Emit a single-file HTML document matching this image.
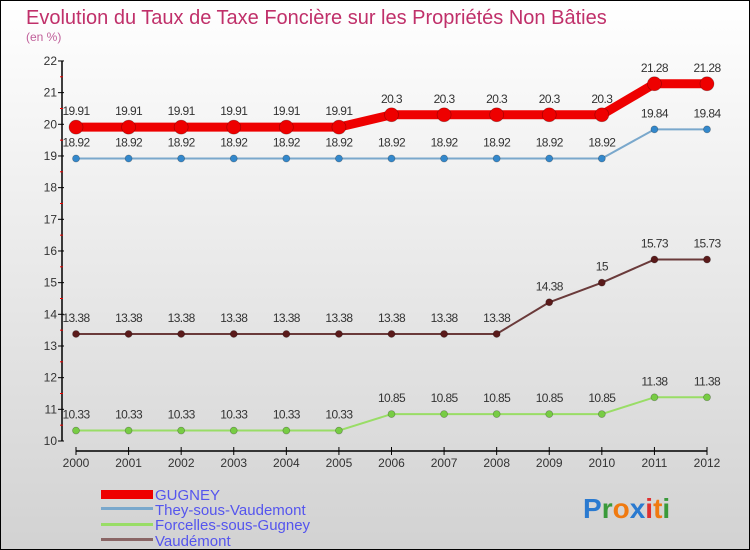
<!DOCTYPE html>
<html><head><meta charset="utf-8"><style>
body{margin:0}
#c{position:relative;width:748px;height:548px;border:1px solid #000;background:linear-gradient(#ffffff,#d2d2d2);font-family:"Liberation Sans",sans-serif;overflow:hidden}
</style></head><body>
<div id="c">
<svg width="748" height="548" id="svg">
<text x="25" y="23" font-size="20" fill="#c0306a">Evolution du Taux de Taxe Foncière sur les Propriétés Non Bâties</text>
<text x="25" y="40" font-size="12" fill="#c0609a">(en %)</text>
<g id="axes"></g><g id="series"></g>
<g>
<rect x="100" y="489" width="52" height="9" fill="#e00"/>
<text x="154" y="499" font-size="15" fill="#5555ee">GUGNEY</text>
<rect x="100" y="506" width="52" height="3" fill="#7aa8cc"/>
<text x="154" y="514" font-size="15" fill="#5555ee">They-sous-Vaudemont</text>
<rect x="100" y="522" width="52" height="3" fill="#99dd66"/>
<text x="154" y="529" font-size="15" fill="#5555ee">Forcelles-sous-Gugney</text>
<rect x="100" y="537" width="52" height="3" fill="#8a6666"/>
<text x="154" y="545" font-size="15" fill="#5555ee">Vaudémont</text>
</g>
<text x="582" y="517" font-size="28" font-weight="bold"><tspan fill="#2a7ad0">P</tspan><tspan fill="#3a9a3a">r</tspan><tspan fill="#f07a10">o</tspan><tspan fill="#2a7ad0">x</tspan><tspan fill="#e03030">i</tspan><tspan fill="#f07a10">t</tspan><tspan fill="#3a9a3a">i</tspan></text>
</svg></div>
<script>
const years=[2000,2001,2002,2003,2004,2005,2006,2007,2008,2009,2010,2011,2012];
const gugney=[19.91,19.91,19.91,19.91,19.91,19.91,20.3,20.3,20.3,20.3,20.3,21.28,21.28];
const they=[18.92,18.92,18.92,18.92,18.92,18.92,18.92,18.92,18.92,18.92,18.92,19.84,19.84];
const forcelles=[10.33,10.33,10.33,10.33,10.33,10.33,10.85,10.85,10.85,10.85,10.85,11.38,11.38];
const vaudemont=[13.38,13.38,13.38,13.38,13.38,13.38,13.38,13.38,13.38,14.38,15,15.73,15.73];
const yTicks=[10,11,12,13,14,15,16,17,18,19,20,21,22];
const NS="http://www.w3.org/2000/svg";
const xs=i=>75+i*(706-75)/12;
const ys=v=>440-(v-10)*31.67;
function mk(t,a,p){const e=document.createElementNS(NS,t);for(const k in a)e.setAttribute(k,a[k]);p.appendChild(e);return e;}
const ax=document.getElementById('axes');
const yl=mk('line',{x1:61,y1:ys(22),x2:61,y2:ys(10),stroke:'#000','stroke-width':1.5},ax);


yTicks.forEach(v=>{
 mk('line',{x1:57,y1:ys(v),x2:63,y2:ys(v),stroke:'#000'},ax);
 if(v<22)mk('line',{x1:59,y1:ys(v+0.5),x2:62,y2:ys(v+0.5),stroke:'#e00'},ax);
 const t=mk('text',{x:56,y:ys(v)+4,'font-size':12,fill:'#333','text-anchor':'end'},ax);t.textContent=v;
 
 
});
const xl=mk('line',{x1:75,y1:450,x2:706,y2:450,stroke:'#000','stroke-width':1.5},ax);


years.forEach((y,i)=>{
 mk('line',{x1:xs(i),y1:446,x2:xs(i),y2:454,stroke:'#000'},ax);
 const t=mk('text',{x:xs(i),y:466,'font-size':12,fill:'#333','text-anchor':'middle'},ax);t.textContent=y;
 
 
});
const sg=document.getElementById('series');
function series(d,name,col,w,r,dot){
 const g=mk('g',{},sg);
 
 
 mk('polyline',{points:d.map((v,i)=>xs(i)+','+ys(v)).join(' '),fill:'none',stroke:col,'stroke-width':w,'stroke-linejoin':'round'},g);
 d.forEach((v,i)=>{
  const c=mk('circle',{cx:xs(i),cy:ys(v),r:r,fill:dot,stroke:'rgba(0,0,0,0.3)','stroke-width':0.7},g);
  
  
  const t=mk('text',{x:xs(i),y:ys(v)-12,'font-size':12,fill:'#333','text-anchor':'middle','letter-spacing':'-0.6'},g);t.textContent=v;
  
  
 });
}
series(forcelles,'forcelles','#99dd66',2,3.5,'#77cc44');
series(vaudemont,'vaudemont','#6a3a3a',2,3.5,'#5a1a1a');
series(they,'they','#7aa8cc',2,3.5,'#3388cc');
series(gugney,'gugney','#ee0000',9,7,'#ee0000');
</script>
</body></html>
